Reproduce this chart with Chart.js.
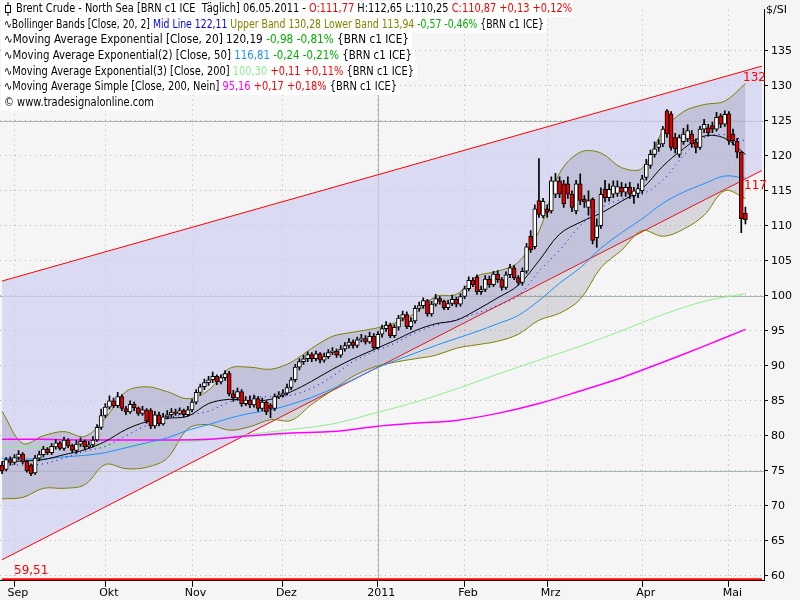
<!DOCTYPE html>
<html>
<head>
<meta charset="utf-8">
<script src="https://cdn.jsdelivr.net/npm/chart.js@4.4.0/dist/chart.umd.min.js"></script>
<style>
  html, body { margin: 0; padding: 0; background: #f5f5f5; }
  #wrap { width: 800px; height: 600px; }
</style>
</head>
<body>
<div id="wrap"><canvas id="c" width="800" height="600"></canvas></div>
<script>
// Brent Crude - North Sea, Tageskerzen 27.08.2010 - 06.05.2011
const slotCount = 185;
const monthIdx = [3, 25, 46, 68, 91, 112, 132, 155, 176];
const monthLabels = ['Sep', 'Okt', 'Nov', 'Dez', '2011', 'Feb', 'Mrz', 'Apr', 'Mai'];
const yTicks = [60, 65, 70, 75, 80, 85, 90, 95, 100, 105, 110, 115, 120, 125, 130, 135];

const opens = [75.8,75.2,76.6,
  76.2,76.9,77.4,76.3,75.8,74.7,76.8,77.3,78.1,77.6,78.4,79.0,78.2,79.4,78.6,77.9,78.8,79.2,78.4,78.7,79.4,81.2,
  82.9,84.1,85.0,84.3,85.6,83.9,83.4,84.5,84.0,83.2,83.7,83.6,81.4,83.0,81.7,82.7,83.0,83.4,83.2,83.6,83.0,
  83.7,84.8,86.2,87.0,87.6,88.0,88.5,87.7,88.3,88.9,86.0,85.4,86.3,84.6,85.1,84.4,85.3,83.9,84.8,84.4,83.9,85.6,
  85.8,86.1,86.9,88.0,89.8,90.6,91.0,91.6,91.0,91.7,90.8,91.3,91.9,92.1,91.5,92.4,92.9,93.4,92.9,93.7,93.9,93.4,94.2,
  92.6,94.5,95.3,95.8,94.3,95.5,96.8,97.3,95.6,96.4,98.2,98.6,99.3,97.4,98.8,99.6,99.2,98.3,98.9,99.5,98.8,
  99.9,101.0,102.2,102.7,100.6,100.9,102.4,101.6,103.1,102.3,101.2,103.0,104.0,102.6,101.9,103.5,108.5,107.0,113.6,111.4,
  112.4,112.1,114.5,116.4,116.0,116.0,114.5,112.1,116.0,113.8,112.6,113.8,108.3,110.0,115.2,114.0,114.5,114.6,115.5,114.8,
  115.5,114.3,114.6,115.0,116.9,118.6,120.2,121.2,121.7,126.4,126.0,122.6,120.2,122.0,122.4,123.1,121.9,121.2,123.8,124.0,
  124.3,123.8,125.7,124.5,126.0,123.1,122.1,120.5,111.77];
const highs = [76.3,76.9,77.0,
  77.3,77.9,77.6,76.5,76.0,77.2,77.8,78.5,78.3,78.9,79.5,79.2,79.8,79.6,78.8,79.3,79.7,79.4,79.2,79.9,81.6,83.8,
  84.6,85.7,85.4,86.2,85.9,84.2,85.0,84.8,84.1,84.2,83.9,83.9,83.5,83.4,83.2,83.6,83.9,83.8,84.0,83.8,84.2,
  85.2,86.6,87.4,88.1,88.5,89.1,88.7,88.7,89.3,89.2,86.5,86.8,86.6,85.6,85.7,85.8,85.6,85.4,85.0,84.6,86.0,86.3,
  86.6,87.4,88.3,90.2,91.0,91.5,92.0,91.9,92.1,91.9,91.8,92.3,92.6,92.4,92.9,93.3,93.9,93.7,94.1,94.5,94.3,94.8,94.6,
  94.9,95.8,96.3,96.1,95.9,97.2,97.8,97.7,96.9,98.6,99.1,99.7,99.5,99.2,100.2,99.9,99.4,99.4,100.1,99.8,100.3,
  101.4,102.7,102.6,103.0,101.4,102.9,102.8,103.5,103.6,102.6,103.4,104.5,104.3,102.9,104.0,107.5,109.3,113.0,119.6,113.9,
  113.0,117.0,117.5,117.0,116.5,117.0,115.0,116.5,117.4,114.3,115.0,114.0,111.0,115.4,116.5,116.0,116.4,116.4,116.2,116.0,
  116.2,115.5,116.0,117.2,119.5,120.8,122.0,122.3,124.2,126.6,126.3,123.2,123.0,123.9,124.4,123.6,122.4,124.2,125.2,124.5,
  124.8,126.2,126.0,126.4,126.3,123.8,122.5,120.6,112.65];
const lows = [74.6,75.0,75.8,
  75.9,76.6,76.0,74.8,74.3,74.5,76.4,77.0,77.3,77.3,78.1,78.0,77.9,78.3,77.6,77.5,78.5,78.1,78.2,78.4,79.2,80.9,
  82.6,83.8,84.0,84.0,83.6,83.0,83.2,83.6,82.9,82.9,81.8,81.0,81.1,81.4,81.5,82.4,82.7,82.9,83.0,82.7,82.8,
  83.4,84.5,85.8,86.6,87.2,87.6,87.3,87.4,87.9,85.7,84.9,85.1,84.2,84.3,84.0,84.1,83.5,83.6,83.0,82.6,83.6,85.3,
  85.5,85.8,86.6,87.7,89.4,90.2,90.6,90.6,90.7,90.4,90.5,91.0,91.6,91.2,91.2,92.1,92.5,92.5,92.6,93.4,93.1,93.2,92.3,
  92.4,94.1,94.9,94.0,94.0,95.1,96.4,95.3,95.2,96.1,97.8,98.2,97.1,97.1,98.5,98.8,98.0,98.0,98.6,98.4,98.5,
  99.6,100.7,101.3,100.2,100.2,100.6,101.2,101.3,101.9,100.8,100.9,102.6,102.3,101.5,101.5,103.2,106.2,106.7,111.2,111.1,
  111.2,111.8,114.0,114.0,112.6,113.9,112.0,111.7,113.0,112.6,111.5,107.4,106.9,109.6,113.4,113.5,114.0,114.2,114.2,114.2,
  113.9,113.2,114.0,114.6,116.5,118.2,119.8,120.6,121.3,122.6,120.8,120.4,119.8,121.6,122.0,121.2,120.4,120.9,123.3,122.8,
  123.3,123.5,124.0,124.2,121.6,121.5,119.7,109.0,110.25];
const closes = [75.0,76.6,76.2,
  76.9,77.4,76.3,75.0,74.6,76.8,77.3,78.1,77.6,78.5,79.0,78.2,79.4,78.6,77.9,78.8,79.2,78.4,78.7,79.4,81.2,82.9,
  84.1,85.0,84.3,85.6,83.9,83.4,84.5,84.0,83.2,83.7,82.1,81.4,83.0,81.7,82.7,83.0,83.4,83.2,83.6,83.0,83.7,
  84.8,86.2,87.0,87.6,88.0,88.5,87.7,88.3,88.9,86.0,85.4,86.3,84.6,85.1,84.4,85.3,83.9,84.8,83.4,83.9,85.6,85.8,
  86.1,86.9,88.0,89.8,90.6,91.0,91.6,91.0,91.7,90.8,91.3,91.9,92.1,91.5,92.4,92.9,93.4,92.9,93.7,93.9,93.4,94.2,92.6,
  94.5,95.3,95.8,94.3,95.5,96.8,97.3,95.6,96.4,98.2,98.6,99.3,97.4,98.8,99.6,99.2,98.3,98.9,99.5,98.8,99.9,
  101.0,102.2,101.6,100.6,100.9,102.4,101.6,103.1,102.3,101.2,103.0,104.0,102.6,101.9,103.5,107.0,106.6,112.4,111.6,113.5,
  111.9,116.4,116.4,114.5,113.1,114.5,112.6,116.0,113.6,113.4,113.6,107.9,110.0,114.5,114.0,115.2,115.7,115.6,114.8,115.5,
  114.5,115.0,115.3,116.7,118.8,120.2,121.0,121.7,123.8,123.1,121.2,121.0,122.6,123.1,123.6,121.7,121.2,123.8,124.5,123.3,
  123.8,125.5,124.5,125.9,122.1,122.1,120.5,111.0,110.87];

const idx5 = [0,5,10,15,20,25,30,35,40,45,50,55,60,65,70,75,80,85,90,95,100,105,110,115,120,125,130,135,140,145,150,155,160,165,170,175,180];
const bbUpper = [83.5,78.9,80,80.6,79.9,82.5,86.3,87,86.3,85.3,86.5,89.6,89.8,89.5,90.5,92.5,94.2,94.8,95.3,96.1,97.5,99.9,100.2,102.8,103.5,104.8,109.2,117.5,120.5,120.4,118.3,118.2,123.5,126.3,127.3,127.8,130.3];
const bbLower = [71,71.2,72.5,72.5,73,75.9,75.3,75.5,76.8,81,81.6,80.8,81.3,82.3,82.2,84.5,86.5,88.5,89.8,90.5,91,91.5,92.5,93,93.5,94.5,96.5,97.5,99.5,104,106.5,109.3,108.5,109.5,111.5,115,113.9];
const bbMid = [76.0,75.8,76.0,76.8,77.8,78.5,80.0,81.5,82.6,83.0,83.5,84.8,85.5,85.6,85.8,86.8,88.5,90.6,92.0,93.2,94.7,95.8,96.6,97.5,98.6,100.0,103.5,106.5,110.0,112.5,113.8,114.5,116.5,120.0,122.6,123.0,122.1];
const ema20 = [76.3,76.4,76.6,77.3,78.0,79.2,80.9,82.0,82.5,82.8,84.6,85.2,85.0,85.2,86.3,87.8,89.5,91.0,92.3,93.6,95.0,96.0,96.5,98.0,99.7,101.5,105,108.8,110.5,111.8,113.5,115.3,118.5,121,122.8,122.5,120.2];
const ema50 = [76.8,76.7,76.7,77.0,77.2,77.6,78.3,79.0,79.7,80.8,81.6,82.5,83.2,83.7,84.5,85.5,86.7,88.0,89.5,90.7,91.8,92.9,93.9,94.9,96.0,97.2,99.3,101.8,104.0,106.8,109.0,111.0,113.2,114.8,116.0,117.1,116.8];
// alle 10 Tage
const idx10 = [0,10,20,30,40,50,60,70,80,90,100,110,120,130,140,150,160,170,180];
const ema200 = [78.4,78.4,78.5,78.6,78.9,79.4,80.2,80.9,81.7,83.2,84.8,86.7,88.8,90.8,92.8,95.0,97.3,99.2,100.3];
const sma200 = [79.5,79.5,79.4,79.4,79.4,79.5,80.0,80.4,80.6,81.3,81.8,82.2,83.2,84.6,86.4,88.3,90.5,92.8,95.2];
// Regressionskanal (Start, Ende) und Tiefstlinie
const chanIdx = [0, 184];
const chanUpper = [102.1, 132.8];
const chanLower = [62.3, 117.9];
const lowLevel = 59.51;

const labels = Array.from({length: slotCount}, (_, i) => String(i));
function sparse(ix, vals) {
  const arr = new Array(slotCount).fill(null);
  ix.forEach((k, j) => { arr[k] = vals[j]; });
  return arr;
}
const bodies = opens.map((o, i) => [Math.min(o, closes[i]), Math.max(o, closes[i])]);
const wicks = lows.map((l, i) => [l, highs[i]]);
const bodyColors = opens.map((o, i) => closes[i] < o ? '#e00000' : '#ffffff');

function line(data, color, extra) {
  return Object.assign({
    type: 'line', data: data, borderColor: color, borderWidth: 1, pointRadius: 0,
    spanGaps: true, tension: 0.35, fill: false
  }, extra || {});
}

const legendRows = [
  [['Brent Crude - North Sea [BRN c1 ICE  Täglich] 06.05.2011 - ', '#000'], ['O:111,77', '#ff0000'], [' H:112,65 L:110,25 ', '#000'], ['C:110,87 +0,13 +0,12%', '#ff0000']],
  [['∿Bollinger Bands [Close, 20, 2] ', '#000'], ['Mid Line 122,11', '#0000ff'], [' Upper Band 130,28 Lower Band 113,94', '#808000'], [' -0,57 -0,46%', '#00b000'], [' {BRN c1 ICE}', '#000']],
  [['∿Moving Average Exponential [Close, 20] 120,19 ', '#000'], ['-0,98 -0,81%', '#00b000'], [' {BRN c1 ICE}', '#000']],
  [['∿Moving Average Exponential(2) [Close, 50] ', '#000'], ['116,81', '#1e90ff'], [' -0,24 -0,21%', '#00b000'], [' {BRN c1 ICE}', '#000']],
  [['∿Moving Average Exponential(3) [Close, 200] ', '#000'], ['100,30', '#90ee90'], [' +0,11 +0,11%', '#ff0000'], [' {BRN c1 ICE}', '#000']],
  [['∿Moving Average Simple [Close, 200, Nein] ', '#000'], ['95,16', '#ff00ff'], [' +0,17 +0,18%', '#ff0000'], [' {BRN c1 ICE}', '#000']],
  [['© www.tradesignalonline.com', '#000']]
];
const legendWidths = [556, 540, 405, 408, 410, 393, 150];

const decor = {
  id: 'decor',
  beforeDraw(chart) {
    const ctx = chart.ctx;
    ctx.save();
    ctx.fillStyle = '#f5f5f5';
    ctx.fillRect(0, 0, chart.width, chart.height);
    ctx.restore();
  },
  beforeDatasetsDraw(chart) {
    const ctx = chart.ctx, ys = chart.scales.y, xs = chart.scales.x, a = chart.chartArea;
    ctx.save();
    ctx.strokeStyle = '#a9b8a9';
    ctx.lineWidth = 1;
    [75, 100, 125].forEach(v => {
      const y = Math.round(ys.getPixelForValue(v)) + 0.5;
      ctx.beginPath(); ctx.moveTo(a.left, y); ctx.lineTo(a.right, y); ctx.stroke();
    });
    const x = Math.round(xs.getPixelForValue(91)) + 0.5;
    ctx.beginPath(); ctx.moveTo(x, a.top); ctx.lineTo(x, a.bottom); ctx.stroke();
    ctx.restore();
  },
  afterDatasetsDraw(chart) {
    const ctx = chart.ctx, ys = chart.scales.y, a = chart.chartArea;
    ctx.save();
    ctx.font = '12px "DejaVu Sans"';
    ctx.fillStyle = '#ff0000';
    ctx.textBaseline = 'middle';
    ctx.fillText('132', a.right - 21, ys.getPixelForValue(chanUpper[1]) + 12);
    ctx.fillText('117', a.right - 20, ys.getPixelForValue(chanLower[1]) + 15);
    ctx.fillText('59,51', 14, ys.getPixelForValue(lowLevel) - 8);
    ctx.fillStyle = '#000';
    ctx.font = '11px "DejaVu Sans"';
    ctx.fillText('$/SI', 766, 10);
    // Legende oben links
    ctx.font = '12px "DejaVu Sans"';
    legendRows.forEach((row, r) => {
      const y = 9 + r * 15.6;
      const full = row.map(s => s[0]).join('');
      const sx = legendWidths[r] / ctx.measureText(full).width;
      ctx.fillStyle = '#ffffff';
      ctx.fillRect(1, y - 8, legendWidths[r] + (r === 0 ? 16 : 6), 16);
      ctx.save();
      ctx.translate(r === 0 ? 16 : 4, 0);
      ctx.scale(sx, 1);
      let x = 0;
      row.forEach(seg => {
        ctx.fillStyle = seg[1];
        ctx.fillText(seg[0], x, y);
        x += ctx.measureText(seg[0]).width;
      });
      ctx.restore();
    });
    // Kerzensymbol vor der ersten Zeile
    ctx.strokeStyle = '#000';
    ctx.lineWidth = 1;
    ctx.strokeRect(5.5, 5.5, 5, 7);
    ctx.beginPath(); ctx.moveTo(8, 2); ctx.lineTo(8, 5); ctx.moveTo(8, 13); ctx.lineTo(8, 16); ctx.stroke();
    ctx.restore();
  }
};

new Chart(document.getElementById('c'), {
  data: {
    labels: labels,
    datasets: [
      line(sparse(chanIdx, chanUpper), '#ff0000', {tension: 0, fill: '+1', backgroundColor: 'rgba(206,206,242,0.7)', order: 20}),
      line(sparse(chanIdx, chanLower), '#ff0000', {tension: 0, order: 19}),
      line(sparse(chanIdx, [lowLevel, lowLevel]), '#ff0000', {tension: 0, borderWidth: 2, order: 19}),
      line(sparse(idx5, bbUpper), '#808000', {fill: '+1', backgroundColor: 'rgba(110,110,130,0.22)', order: 15}),
      line(sparse(idx5, bbLower), '#808000', {order: 14}),
      line(sparse(idx10, sma200), '#ff00ff', {order: 10, borderWidth: 1.5}),
      line(sparse(idx10, ema200), '#90ee90', {order: 10}),
      line(sparse(idx5, ema50), '#1e90ff', {order: 9}),
      line(sparse(idx5, bbMid), '#0000ff', {order: 8, borderDash: [1, 4]}),
      line(sparse(idx5, ema20), '#000000', {order: 7}),
      {type: 'bar', data: wicks, backgroundColor: '#000', barThickness: 1, grouped: false, order: 2},
      {type: 'bar', data: bodies, backgroundColor: bodyColors, borderColor: '#000', borderWidth: 1,
       borderSkipped: false, barThickness: 4, grouped: false, order: 1}
    ]
  },
  options: {
    responsive: false,
    animation: false,
    devicePixelRatio: 1,
    layout: {padding: {top: 0, left: 0, right: 5, bottom: 0}},
    plugins: {legend: {display: false}, tooltip: {enabled: false}},
    scales: {
      x: {
        type: 'category',
        offset: true,
        grid: {
          color: c => monthIdx.includes(c.index) ? '#b5b5b5' : 'rgba(0,0,0,0)',
          tickColor: c => monthIdx.includes(c.index) ? '#000' : 'rgba(0,0,0,0)',
          tickLength: 6,
          offset: false
        },
        border: {color: '#000', dash: [1, 4]},
        ticks: {
          autoSkip: false, maxRotation: 0, color: '#000', padding: 0,
          font: {family: 'DejaVu Sans', size: 11},
          callback: (v, i) => { const k = monthIdx.indexOf(i); return k >= 0 ? '  ' + monthLabels[k] : ''; }
        }
      },
      y: {
        position: 'right',
        min: 59.29,
        max: 140.87,
        afterBuildTicks: s => { s.ticks = yTicks.map(v => ({value: v})); },
        grid: {color: '#b5b5b5', tickLength: 4, tickColor: '#000'},
        border: {color: '#000', dash: [1, 4]},
        ticks: {color: '#000', padding: 3, font: {family: 'DejaVu Sans', size: 11}}
      }
    }
  },
  plugins: [decor]
});
</script>
</body>
</html>
